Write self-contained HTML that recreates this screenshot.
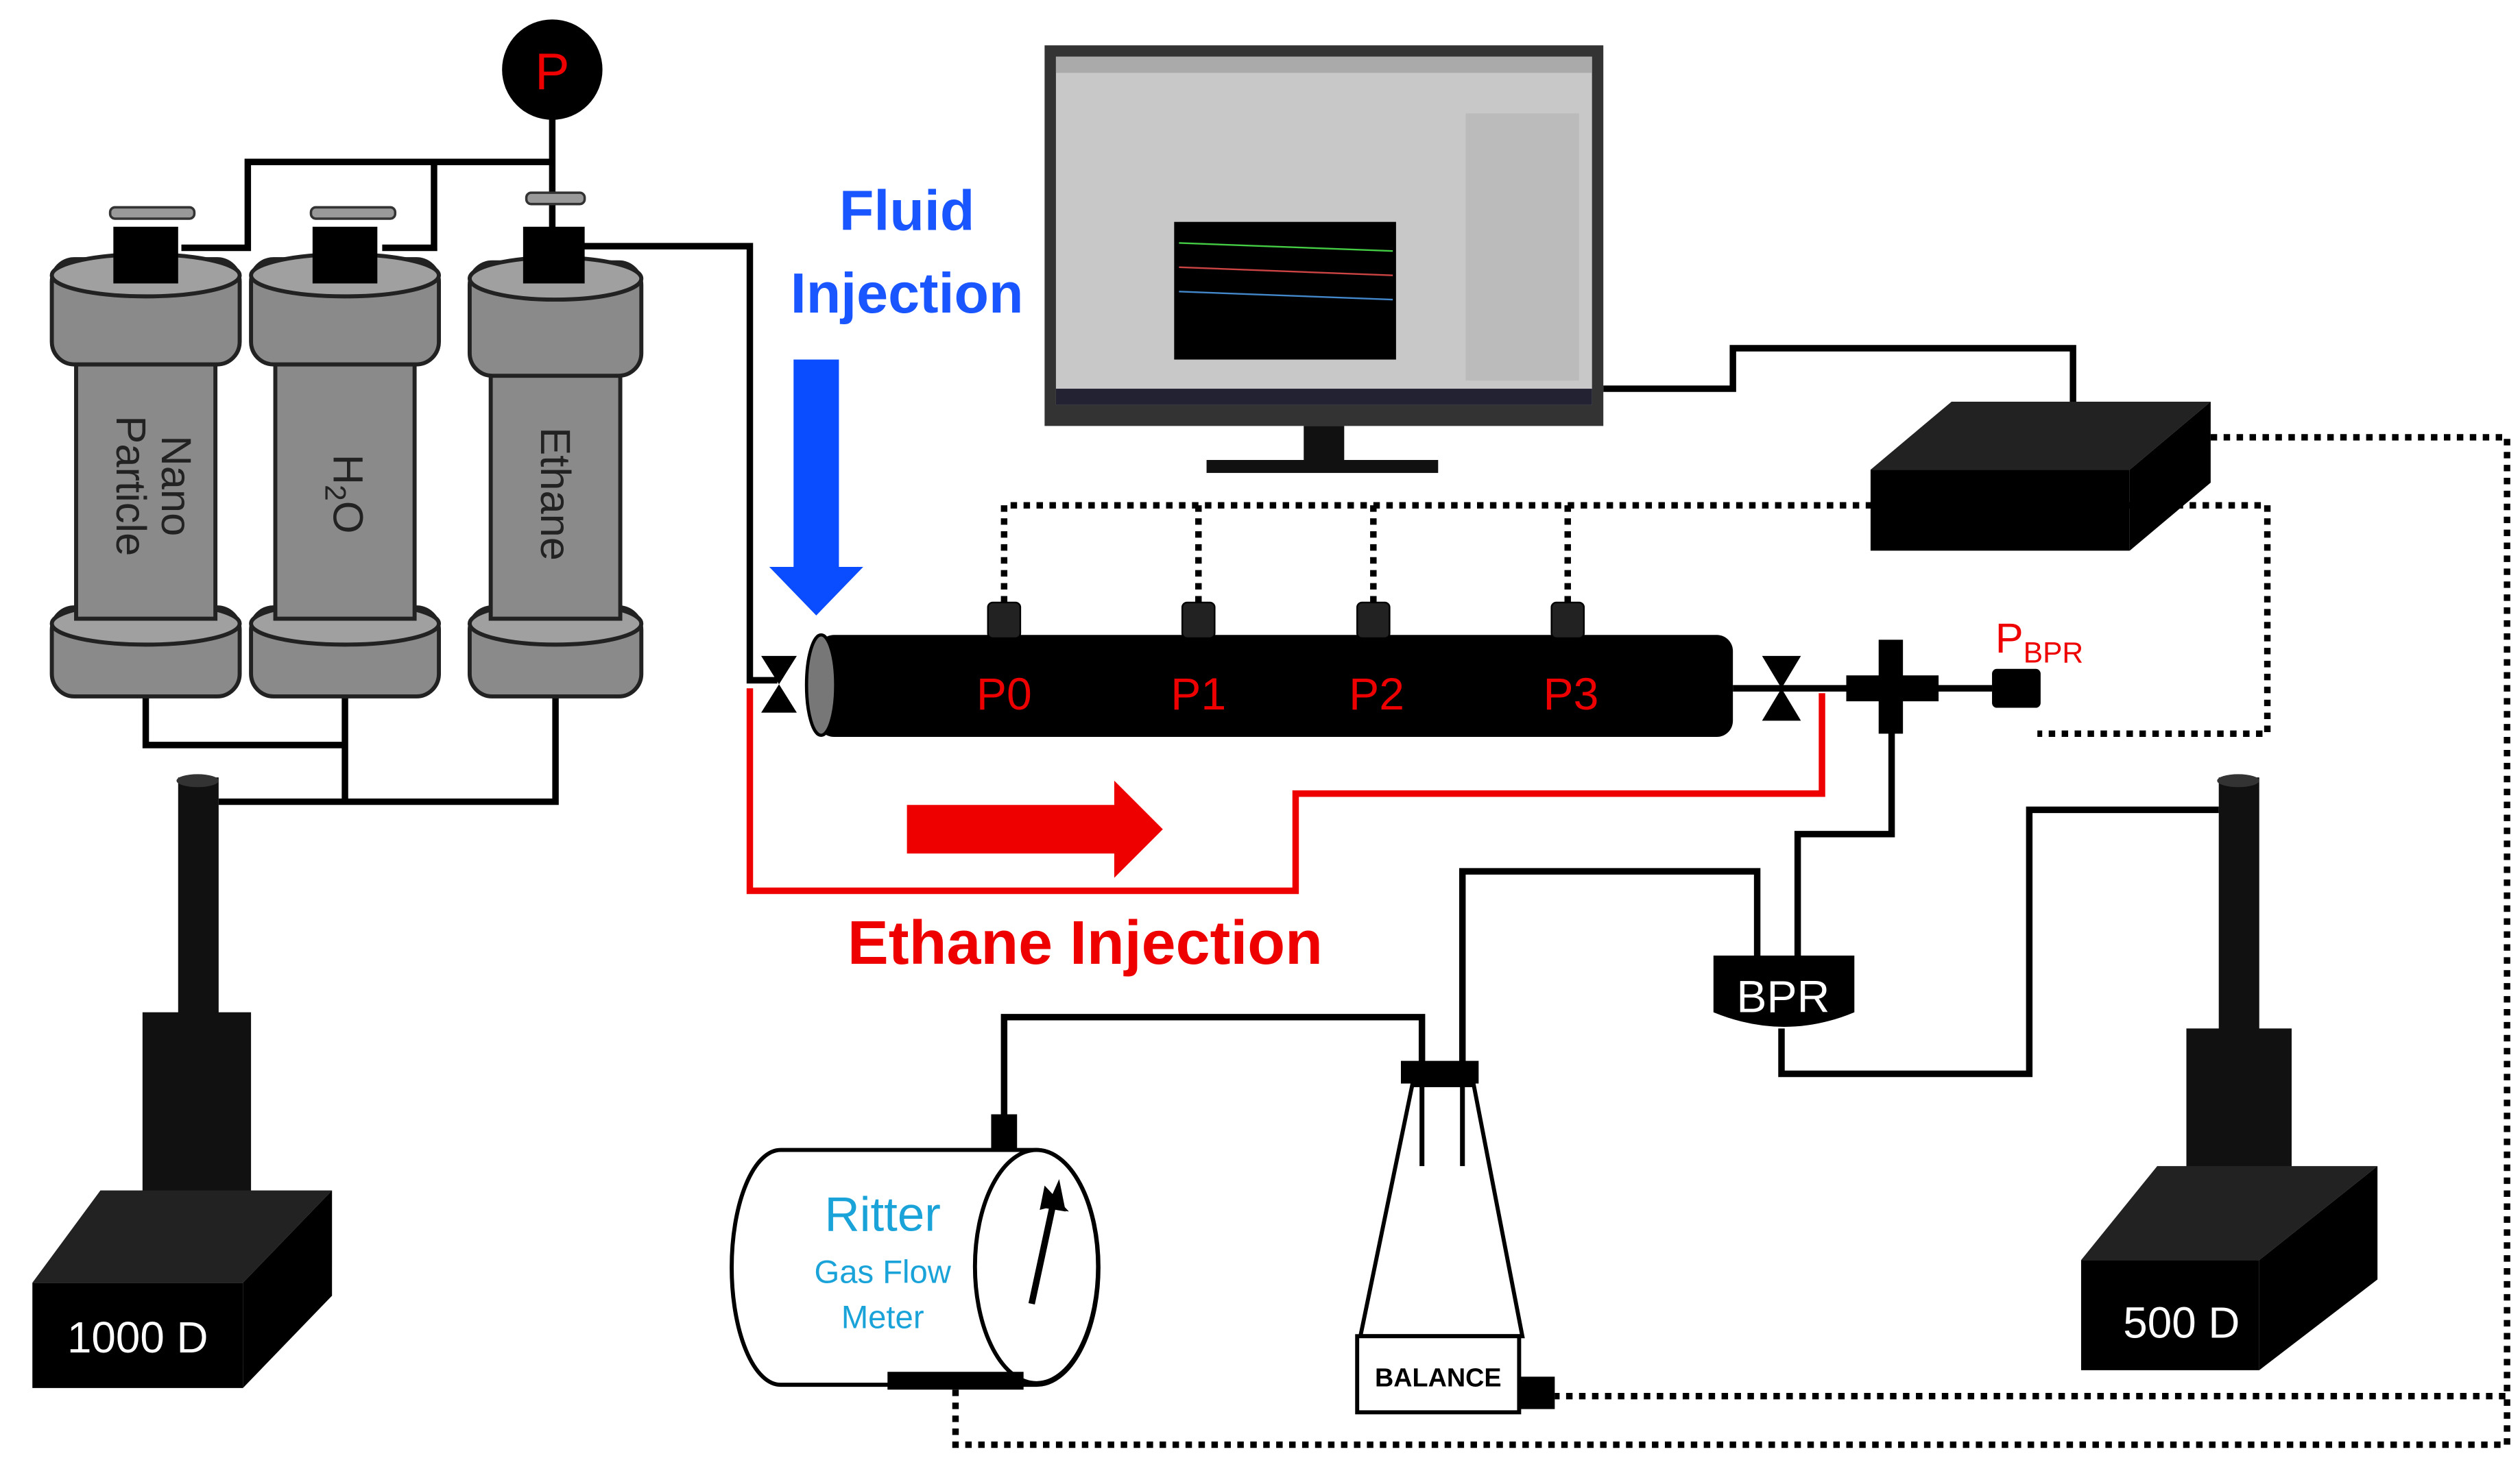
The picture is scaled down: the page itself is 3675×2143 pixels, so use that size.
<!DOCTYPE html>
<html><head><meta charset="utf-8"><style>
html,body{margin:0;padding:0;background:#fff;}
svg{display:block;}
text{font-family:"Liberation Sans",sans-serif;}
</style></head><body>
<svg width="3675" height="2143" viewBox="0 0 1556 907" preserveAspectRatio="none" xmlns="http://www.w3.org/2000/svg">
<rect width="1556" height="907" fill="#fff"/>
<!-- pipes top -->
<g fill="none" stroke="#000" stroke-width="4">
<line x1="341" y1="60" x2="341" y2="150"/>
<polyline points="112,153 153,153 153,100 341,100"/>
<polyline points="236,153 268,153 268,100"/>
<polyline points="360,152 463,152 463,420 480,420"/>
<polyline points="90,428 90,460 213,460"/>
<line x1="213" y1="428" x2="213" y2="495"/>
<polyline points="343,428 343,495 135,495"/>
</g>
<!-- gauge -->
<circle cx="341" cy="43" r="31" fill="#000"/>
<text x="341" y="55" font-size="32" fill="#e00" text-anchor="middle">P</text>
<!-- cylinders -->
<g stroke="#222" stroke-width="2.5" fill="#8a8a8a">
<!-- cyl1 -->
<rect x="32" y="375" width="116" height="55" rx="14"/><ellipse cx="90" cy="385" rx="58" ry="13" fill="#a0a0a0"/>
<rect x="47" y="220" width="86" height="162"/>
<rect x="32" y="160" width="116" height="65" rx="14"/><ellipse cx="90" cy="170" rx="58" ry="13" fill="#a0a0a0"/>
<!-- cyl2 -->
<rect x="155" y="375" width="116" height="55" rx="14"/><ellipse cx="213" cy="385" rx="58" ry="13" fill="#a0a0a0"/>
<rect x="170" y="220" width="86" height="162"/>
<rect x="155" y="160" width="116" height="65" rx="14"/><ellipse cx="213" cy="170" rx="58" ry="13" fill="#a0a0a0"/>
<!-- cyl3 -->
<rect x="290" y="375" width="106" height="55" rx="14"/><ellipse cx="343" cy="385" rx="53" ry="13" fill="#a0a0a0"/>
<rect x="303" y="230" width="80" height="152"/>
<rect x="290" y="162" width="106" height="70" rx="14"/><ellipse cx="343" cy="172" rx="53" ry="13" fill="#a0a0a0"/>
</g>
<g fill="#000">
<rect x="70" y="140" width="40" height="35"/><rect x="193" y="140" width="40" height="35"/><rect x="323" y="140" width="38" height="35"/>
</g>
<g fill="#999" stroke="#333" stroke-width="1.5">
<rect x="68" y="128" width="52" height="7" rx="3"/><rect x="192" y="128" width="52" height="7" rx="3"/><rect x="325" y="119" width="36" height="7" rx="3"/>
</g>
<g font-size="26" fill="#222">
<text transform="translate(100,300) rotate(90)" text-anchor="middle">Nano</text>
<text transform="translate(72,300) rotate(90)" text-anchor="middle">Particle</text>
<text transform="translate(206,305) rotate(90)" text-anchor="middle">H<tspan font-size="18" dy="5">2</tspan><tspan dy="-5">O</tspan></text>
<text transform="translate(334,305) rotate(90)" text-anchor="middle">Ethane</text>
</g>
<!-- pump 1000D -->
<rect x="110" y="480" width="25" height="160" fill="#111"/>
<ellipse cx="122" cy="482" rx="13" ry="4" fill="#333"/>
<rect x="88" y="625" width="67" height="115" fill="#111"/>
<polygon points="20,792 62,735 205,735 150,792" fill="#222"/>
<polygon points="150,792 205,735 205,800 150,857" fill="#000"/>
<rect x="20" y="792" width="130" height="65" fill="#000"/>
<text x="85" y="835" font-size="27" fill="#fff" text-anchor="middle">1000 D</text>
<!-- pump 500D -->
<rect x="1370" y="480" width="25" height="160" fill="#111"/>
<ellipse cx="1382" cy="482" rx="13" ry="4" fill="#333"/>
<rect x="1350" y="635" width="65" height="105" fill="#111"/>
<polygon points="1285,778 1332,720 1468,720 1395,778" fill="#222"/>
<polygon points="1395,778 1468,720 1468,790 1395,846" fill="#000"/>
<rect x="1285" y="778" width="110" height="68" fill="#000"/>
<text x="1347" y="826" font-size="27" fill="#fff" text-anchor="middle">500 D</text>
<!-- red ethane line -->
<polyline points="463,425 463,550 800,550 800,490 1125,490 1125,428" fill="none" stroke="#e00" stroke-width="4"/>
<polygon points="560,497 688,497 688,482 718,512 688,542 688,527 560,527" fill="#e00"/>
<text x="670" y="595" font-size="38" font-weight="bold" fill="#e00" text-anchor="middle">Ethane Injection</text>
<!-- blue arrow -->
<polygon points="490,222 518,222 518,350 533,350 504,380 475,350 490,350" fill="#0a4cff"/>
<text x="560" y="142" font-size="35" font-weight="bold" fill="#1a56ff" text-anchor="middle">Fluid</text>
<text x="560" y="193" font-size="35" font-weight="bold" fill="#1a56ff" text-anchor="middle">Injection</text>
<!-- core holder -->
<line x1="1070" y1="425" x2="1230" y2="425" stroke="#000" stroke-width="4"/>
<rect x="505" y="392" width="565" height="63" rx="10" fill="#000"/>
<ellipse cx="507" cy="423" rx="9" ry="31" fill="#777" stroke="#000" stroke-width="2"/>
<g fill="#000">
<polygon points="470,405 492,405 470,440 492,440"/>
<polygon points="1088,405 1112,405 1088,445 1112,445"/>
<rect x="1160" y="395" width="15" height="58"/><rect x="1140" y="417" width="57" height="16"/>
<rect x="1230" y="413" width="30" height="24" rx="3"/>
</g>
<g fill="#222" stroke="#000">
<rect x="610" y="372" width="20" height="22" rx="3"/><rect x="730" y="372" width="20" height="22" rx="3"/>
<rect x="838" y="372" width="20" height="22" rx="3"/><rect x="958" y="372" width="20" height="22" rx="3"/>
</g>
<g font-size="28" fill="#e00" text-anchor="middle">
<text x="620" y="438">P0</text><text x="740" y="438">P1</text><text x="850" y="438">P2</text><text x="970" y="438">P3</text>
</g>
<text x="1232" y="403" font-size="26" fill="#e00">P<tspan font-size="18" dy="6">BPR</tspan></text>
<!-- dotted -->
<g fill="none" stroke="#000" stroke-width="4" stroke-dasharray="4,4">
<polyline points="620,372 620,312 1400,312 1400,453 1258,453"/>
<line x1="740" y1="372" x2="740" y2="312"/>
<line x1="848" y1="372" x2="848" y2="312"/>
<line x1="968" y1="372" x2="968" y2="312"/>
<polyline points="1365,270 1548,270 1548,862 960,862"/>
<polyline points="590,858 590,892 1548,892 1548,862"/>
</g>
<!-- monitor -->
<rect x="645" y="28" width="345" height="235" fill="#333"/>
<rect x="652" y="35" width="331" height="215" fill="#c8c8c8"/>
<rect x="652" y="35" width="331" height="10" fill="#aaa"/>
<rect x="652" y="240" width="331" height="10" fill="#223"/>
<rect x="725" y="137" width="137" height="85" fill="#000"/>
<polyline points="728,150 860,155" stroke="#4c4" fill="none"/><polyline points="728,165 860,170" stroke="#c44" fill="none"/><polyline points="728,180 860,185" stroke="#48c" fill="none"/>
<rect x="905" y="70" width="70" height="165" fill="#bbb"/>
<rect x="805" y="263" width="25" height="22" fill="#111"/>
<rect x="745" y="284" width="143" height="8" fill="#111"/>
<polyline points="990,240 1070,240 1070,215 1280,215 1280,248" fill="none" stroke="#000" stroke-width="4"/>
<!-- box -->
<polygon points="1155,290 1205,248 1365,248 1315,290" fill="#222"/>
<polygon points="1315,290 1365,248 1365,298 1315,340" fill="#000"/>
<rect x="1155" y="290" width="160" height="50" fill="#000"/>
<!-- BPR lines -->
<g fill="none" stroke="#000" stroke-width="4">
<polyline points="1168,450 1168,515 1110,515 1110,590"/>
<polyline points="1100,635 1100,663 1253,663 1253,500 1370,500"/>
<polyline points="1085,590 1085,538 903,538 903,665"/>
<polyline points="878,660 878,628 620,628 620,690"/>
</g>
<path d="M1058,590 h87 v35 q-43,18 -87,0 z" fill="#000"/>
<text x="1101" y="625" font-size="28" fill="#fff" text-anchor="middle">BPR</text>
<!-- flask -->
<polygon points="872,670 910,670 940,825 840,825" fill="#fff" stroke="#000" stroke-width="2.5"/>
<rect x="865" y="655" width="48" height="14" fill="#000"/>
<line x1="878" y1="665" x2="878" y2="720" stroke="#000" stroke-width="3"/>
<line x1="903" y1="665" x2="903" y2="720" stroke="#000" stroke-width="3"/>
<rect x="838" y="825" width="100" height="47" fill="#fff" stroke="#000" stroke-width="2.5"/>
<text x="888" y="856" font-size="16" font-weight="bold" text-anchor="middle">BALANCE</text>
<rect x="938" y="850" width="22" height="20" fill="#000"/>
<!-- ritter -->
<rect x="612" y="688" width="16" height="22" fill="#000"/>
<path d="M482,710 H640 A38,72 0 0 1 640,855 H482 A30,72 0 0 1 482,710 Z" fill="#fff" stroke="#000" stroke-width="2.5"/>
<ellipse cx="640" cy="782" rx="38" ry="72" fill="#fff" stroke="#000" stroke-width="2.5"/>
<line x1="637" y1="805" x2="651" y2="740" stroke="#000" stroke-width="4"/>
<polygon points="645,732 660,748 646,746 642,747" fill="#000"/>
<polygon points="654,728 646,746 658,748" fill="#000"/>
<rect x="548" y="847" width="84" height="11" fill="#000"/>
<text x="545" y="760" font-size="30" fill="#1aa3d9" text-anchor="middle">Ritter</text>
<text x="545" y="792" font-size="20" fill="#1aa3d9" text-anchor="middle">Gas Flow</text>
<text x="545" y="820" font-size="20" fill="#1aa3d9" text-anchor="middle">Meter</text>
</svg>
</body></html>
